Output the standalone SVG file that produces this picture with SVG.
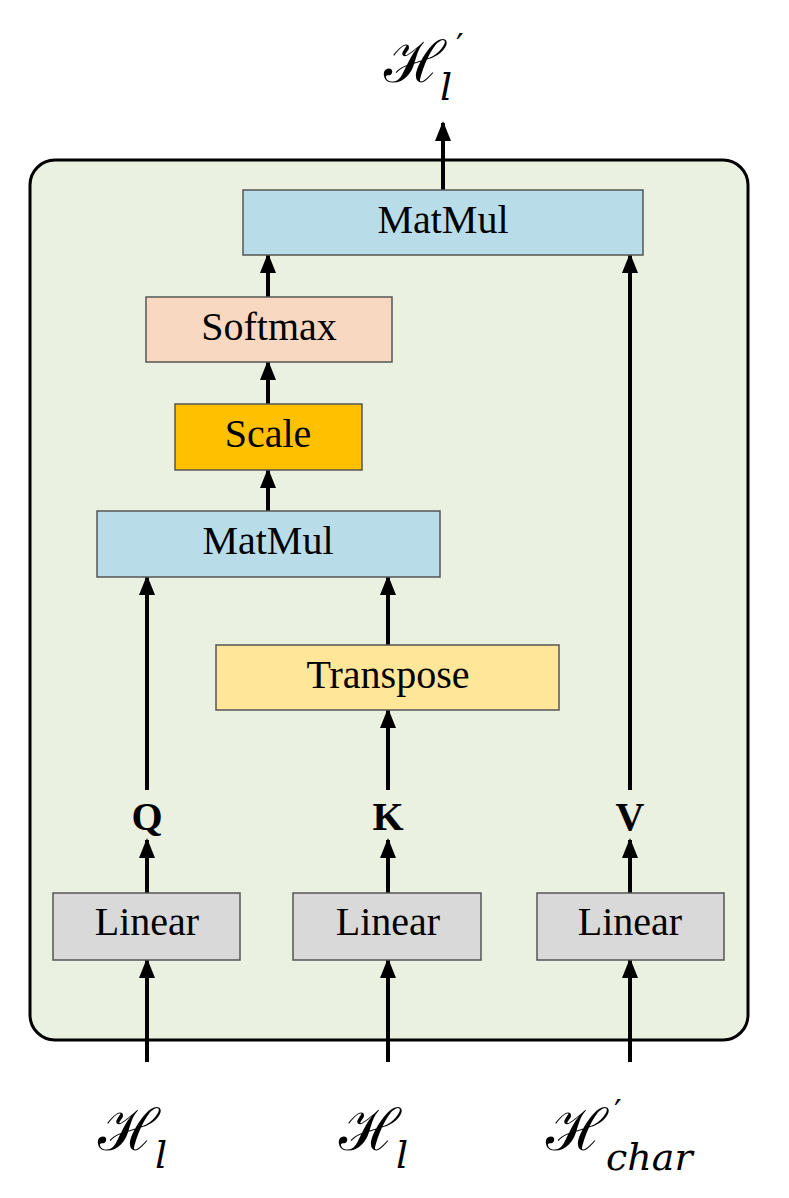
<svg xmlns="http://www.w3.org/2000/svg" width="789" height="1198" viewBox="0 0 789 1198">
<defs>
<marker id="a" markerWidth="20" markerHeight="20" refX="18" refY="10" orient="auto" markerUnits="userSpaceOnUse"><path d="M0,2 L20,10 L0,18 z" fill="#000"/></marker>
</defs>
<style>
.b{stroke:#555;stroke-width:1.5}
.t{font-family:"Liberation Serif",serif;font-size:40px;text-anchor:middle}
.bold{font-family:"Liberation Serif",serif;font-size:40px;font-weight:bold;text-anchor:middle}
.h{font-family:"DejaVu Serif",serif;font-size:58px}
.s{font-family:"DejaVu Serif",serif;font-style:italic;font-size:38px}
.p{font-family:"DejaVu Sans",sans-serif;font-size:34px}
.c{stroke:#000;stroke-width:4;fill:none;marker-end:url(#a)}
</style>
<rect x="30" y="160" width="718" height="880" rx="25" fill="#ebf1e0" stroke="#000" stroke-width="3"/>
<g id="connectors">
<line class="c" x1="443" y1="190" x2="443" y2="123"/>
<line class="c" x1="268" y1="297" x2="268" y2="255"/>
<line class="c" x1="268" y1="404" x2="268" y2="362"/>
<line class="c" x1="268" y1="511" x2="268" y2="470"/>
<line class="c" x1="147" y1="790" x2="147" y2="577"/>
<line class="c" x1="388" y1="645" x2="388" y2="577"/>
<line class="c" x1="388" y1="790" x2="388" y2="710"/>
<line class="c" x1="630" y1="790" x2="630" y2="255"/>
<line class="c" x1="147" y1="893" x2="147" y2="840"/>
<line class="c" x1="388" y1="893" x2="388" y2="840"/>
<line class="c" x1="630" y1="893" x2="630" y2="840"/>
<line class="c" x1="147" y1="1062" x2="147" y2="960"/>
<line class="c" x1="388" y1="1062" x2="388" y2="960"/>
<line class="c" x1="630" y1="1062" x2="630" y2="960"/>
</g>
<g id="matmul_top"><rect class="b" x="243" y="190" width="400" height="65" fill="#b8dce8"/><text class="t" x="443" y="233">MatMul</text></g>
<g id="softmax"><rect class="b" x="146" y="297" width="246" height="65" fill="#f9d8c2"/><text class="t" x="269" y="340">Softmax</text></g>
<g id="scale"><rect class="b" x="175" y="404" width="187" height="66" fill="#ffc000"/><text class="t" x="268" y="447">Scale</text></g>
<g id="matmul"><rect class="b" x="97" y="511" width="343" height="66" fill="#b8dce8"/><text class="t" x="268" y="554">MatMul</text></g>
<g id="transpose"><rect class="b" x="216" y="645" width="343" height="65" fill="#ffe699"/><text class="t" x="388" y="688">Transpose</text></g>
<g id="linear_q"><rect class="b" x="53" y="893" width="187" height="67" fill="#d9d9d9"/><text class="t" x="147" y="935">Linear</text></g>
<g id="linear_k"><rect class="b" x="293" y="893" width="188" height="67" fill="#d9d9d9"/><text class="t" x="388" y="935">Linear</text></g>
<g id="linear_v"><rect class="b" x="537" y="893" width="187" height="67" fill="#d9d9d9"/><text class="t" x="630" y="935">Linear</text></g>
<g id="q"><text class="bold" x="147" y="830">Q</text></g>
<g id="k"><text class="bold" x="388" y="830">K</text></g>
<g id="v"><text class="bold" x="630" y="830">V</text></g>
<g id="out"><text class="h" x="384" y="82">ℋ</text><text class="s" x="440" y="100">l</text><text class="p" x="456" y="58">′</text></g>
<g id="in1"><text class="h" x="98" y="1150">ℋ</text><text class="s" x="155" y="1168">l</text></g>
<g id="in2"><text class="h" x="339" y="1150">ℋ</text><text class="s" x="396" y="1168">l</text></g>
<g id="in3"><text class="h" x="546" y="1150">ℋ</text><text class="p" x="614" y="1124">′</text><text class="s" x="606" y="1170">char</text></g>
</svg>
